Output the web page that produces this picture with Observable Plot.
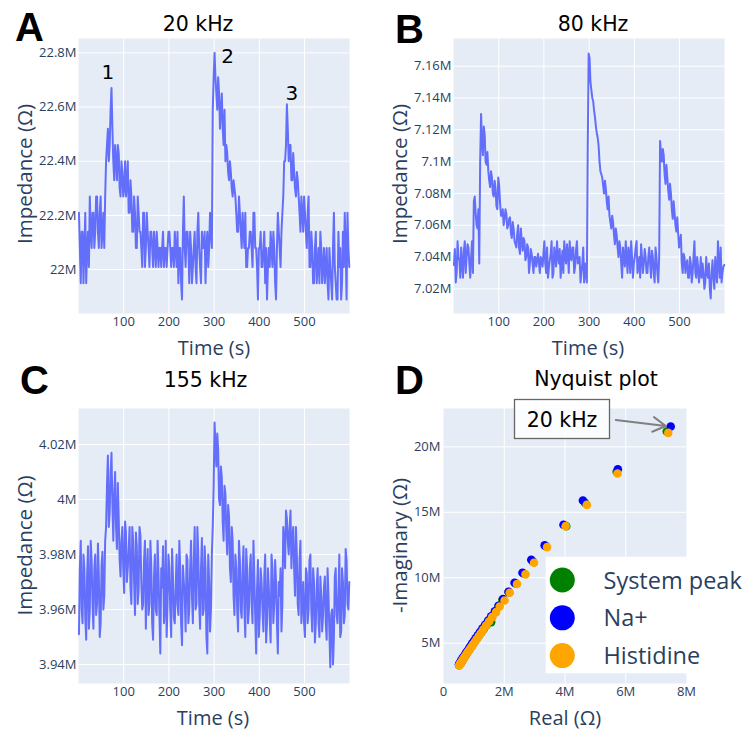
<!DOCTYPE html>
<html>
<head>
<meta charset="utf-8">
<script src="https://cdn.jsdelivr.net/npm/d3@7"></script>
<script src="https://cdn.jsdelivr.net/npm/@observablehq/plot@0.6"></script>
<style>
  html, body { margin: 0; padding: 0; background: #fff; }
  #wrap { position: relative; width: 750px; height: 735px; overflow: hidden; }
  #wrap > .panel { position: absolute; }
  #overlay { position: absolute; left: 0; top: 0; pointer-events: none; }
</style>
</head>
<body>
<div id="wrap"></div>
<script>
// ---------- DATA (impedance in MΩ) ----------
// readings at t = 1, 5, 9, ... s  ("even" set) and t = 3, 7, 11, ... s ("odd" set)
const evenStart = 1, oddStart = 3, sampleStep = 4;

const imp20kHzEven = [
22.21, 21.95, 22.14, 22.08, 21.95, 22.14, 22.27, 22.08, 22.21, 22.14, 22.27, 22.08, 22.27, 22.14, 22.08,
22.40, 22.52, 22.46, 22.67, 22.40, 22.46, 22.33, 22.43, 22.27, 22.36, 22.30, 22.27, 22.40, 22.21, 22.27,
22.14, 22.21, 22.08, 22.21, 22.14, 22.01, 22.21, 22.08, 22.14, 22.01, 22.14, 22.01, 22.08, 22.14, 22.01,
22.08, 22.08, 22.01, 22.08, 22.08, 22.14, 22.01, 22.08, 22.14, 22.01, 21.95, 22.08, 21.89, 22.27, 22.01,
22.14, 21.95, 22.08, 22.01, 22.14, 21.95, 22.21, 22.01, 22.14, 22.08, 21.95, 22.14, 22.08, 22.14, 22.59,
22.80, 22.65, 22.71, 22.52, 22.65, 22.46, 22.40, 22.43, 22.33, 22.36, 22.27, 22.30, 22.21, 22.14, 22.21,
22.08, 22.14, 22.21, 22.01, 22.08, 22.14, 22.01, 22.21, 22.08, 21.89, 22.08, 22.01, 22.08, 21.95, 21.89,
22.08, 22.14, 22.01, 22.08, 21.89, 22.21, 22.08, 22.14, 22.27, 22.40, 22.61, 22.40, 22.46, 22.33, 22.36,
22.27, 22.33, 22.21, 22.27, 22.14, 22.21, 22.08, 22.27, 22.01, 22.08, 21.95, 22.14, 22.01, 21.95, 22.08,
22.01, 21.95, 22.08, 21.89, 22.01, 21.89, 22.21, 21.95, 21.89, 22.01, 21.89, 22.14, 22.21, 21.89, 22.08
];
const imp20kHzOdd = [
22.08, 22.14, 21.95, 22.21, 22.08, 22.01, 22.14, 22.21, 22.08, 22.27, 22.14, 22.21, 22.08, 22.21, 22.27,
22.46, 22.40, 22.59, 22.52, 22.33, 22.40, 22.46, 22.30, 22.40, 22.27, 22.40, 22.33, 22.21, 22.33, 22.14,
22.27, 22.08, 22.27, 22.14, 22.08, 22.21, 22.01, 22.21, 22.08, 22.14, 22.08, 22.14, 22.01, 22.08, 22.08,
22.01, 22.14, 22.08, 22.01, 22.14, 22.08, 22.08, 22.01, 22.08, 22.14, 22.08, 21.95, 22.14, 22.08, 22.14,
22.08, 22.14, 21.95, 22.08, 22.01, 22.14, 22.08, 21.95, 22.08, 22.14, 22.08, 22.01, 22.21, 22.08, 22.71,
22.71, 22.59, 22.65, 22.59, 22.52, 22.59, 22.46, 22.36, 22.40, 22.30, 22.33, 22.27, 22.14, 22.27, 22.14,
22.21, 22.08, 22.01, 22.08, 22.14, 22.08, 22.21, 22.08, 22.01, 22.08, 22.14, 22.01, 22.14, 22.08, 22.01,
22.01, 22.08, 22.14, 21.95, 22.08, 22.14, 22.01, 22.21, 22.40, 22.46, 22.52, 22.46, 22.33, 22.43, 22.30,
22.36, 22.27, 22.14, 22.21, 22.27, 22.14, 22.21, 22.01, 22.14, 21.95, 22.08, 21.95, 22.08, 22.14, 21.95,
22.08, 22.01, 21.95, 22.08, 21.95, 22.08, 22.01, 21.89, 22.14, 22.08, 21.95, 22.01, 22.08, 22.21, 22.01
];

const imp80kHzEven = [
7.035, 7.024, 7.05, 7.038, 7.046, 7.027, 7.05, 7.04, 7.046, 7.027, 7.05, 7.075, 7.068, 7.058, 7.036,
7.13, 7.104, 7.117, 7.098, 7.094, 7.084, 7.09, 7.078, 7.083, 7.07, 7.085, 7.066, 7.07, 7.064, 7.067,
7.06, 7.065, 7.052, 7.058, 7.048, 7.055, 7.046, 7.058, 7.044, 7.05, 7.04, 7.046, 7.036, 7.042, 7.03,
7.04, 7.038, 7.036, 7.04, 7.034, 7.05, 7.03, 7.027, 7.038, 7.05, 7.03, 7.04, 7.05, 7.036, 7.027,
7.044, 7.05, 7.036, 7.042, 7.05, 7.038, 7.046, 7.034, 7.05, 7.038, 7.024, 7.036, 7.024, 7.03, 7.11,
7.165, 7.145, 7.138, 7.128, 7.118, 7.11, 7.094, 7.09, 7.08, 7.083, 7.07, 7.066, 7.058, 7.062, 7.048,
7.054, 7.04, 7.046, 7.027, 7.04, 7.05, 7.03, 7.042, 7.05, 7.027, 7.04, 7.05, 7.034, 7.027, 7.04,
7.036, 7.04, 7.03, 7.046, 7.027, 7.04, 7.024, 7.04, 7.024, 7.113, 7.1, 7.104, 7.086, 7.09, 7.076,
7.08, 7.064, 7.068, 7.056, 7.055, 7.05, 7.036, 7.042, 7.03, 7.038, 7.027, 7.036, 7.03, 7.05, 7.027,
7.034, 7.03, 7.027, 7.03, 7.024, 7.03, 7.036, 7.014, 7.038, 7.02, 7.03, 7.05, 7.027, 7.024, 7.034
];
const imp80kHzOdd = [
7.045, 7.03, 7.04, 7.027, 7.036, 7.044, 7.03, 7.048, 7.036, 7.04, 7.03, 7.078, 7.06, 7.07, 7.1,
7.112, 7.122, 7.1, 7.106, 7.088, 7.094, 7.08, 7.088, 7.072, 7.09, 7.074, 7.066, 7.06, 7.07, 7.058,
7.064, 7.055, 7.062, 7.05, 7.046, 7.06, 7.042, 7.05, 7.052, 7.038, 7.048, 7.03, 7.045, 7.036, 7.04,
7.034, 7.042, 7.03, 7.038, 7.042, 7.036, 7.046, 7.033, 7.042, 7.027, 7.046, 7.034, 7.04, 7.045, 7.036,
7.03, 7.04, 7.048, 7.03, 7.04, 7.046, 7.03, 7.044, 7.036, 7.04, 7.03, 7.046, 7.036, 7.024, 7.168,
7.15, 7.14, 7.132, 7.122, 7.115, 7.1, 7.092, 7.085, 7.088, 7.075, 7.078, 7.062, 7.066, 7.054, 7.058,
7.046, 7.05, 7.036, 7.046, 7.034, 7.04, 7.046, 7.03, 7.04, 7.036, 7.046, 7.03, 7.04, 7.048, 7.03,
7.045, 7.03, 7.04, 7.036, 7.044, 7.03, 7.046, 7.03, 7.04, 7.105, 7.108, 7.092, 7.098, 7.082, 7.086,
7.07, 7.075, 7.06, 7.065, 7.046, 7.054, 7.03, 7.04, 7.036, 7.027, 7.04, 7.024, 7.04, 7.03, 7.04,
7.024, 7.04, 7.036, 7.02, 7.04, 7.027, 7.02, 7.03, 7.027, 7.04, 7.024, 7.036, 7.046, 7.03, 7.035
];

const imp155kHzEven = [
3.951, 3.985, 3.955, 3.975, 3.949, 3.983, 3.96, 3.978, 3.953, 3.98, 3.962, 3.972, 3.955, 3.981, 3.965,
3.99, 4.016, 3.995, 4.017, 3.985, 4.01, 3.982, 3.993, 3.972, 3.99, 3.966, 3.988, 3.975, 3.99, 3.962,
3.985, 3.958, 3.983, 3.967, 3.987, 3.96, 3.978, 3.953, 3.982, 3.962, 3.976, 3.949, 3.98, 3.958, 3.973,
3.944, 3.968, 3.955, 3.985, 3.962, 3.975, 3.95, 3.972, 3.955, 3.98, 3.958, 3.975, 3.947, 3.97, 3.952,
3.978, 3.96, 3.985, 3.955, 3.99, 3.962, 3.98, 3.953, 3.986, 3.96, 3.975, 3.944, 3.97, 3.96, 3.99,
4.028, 4.012, 4.018, 3.998, 4.008, 3.985, 4.002, 3.98, 3.994, 3.97, 3.985, 3.958, 3.975, 3.952, 3.978,
3.957, 3.983, 3.95, 3.975, 3.96, 3.98, 3.955, 3.972, 3.944, 3.978, 3.958, 3.97, 3.952, 3.98, 3.955,
3.968, 3.948, 3.975, 3.962, 3.97, 3.944, 3.965, 3.952, 3.99, 3.975, 3.993, 3.98, 3.996, 3.985, 3.975,
3.99, 3.962, 3.978, 3.955, 3.97, 3.95, 3.973, 3.96, 3.98, 3.952, 3.97, 3.955, 3.975, 3.95, 3.965,
3.958, 3.972, 3.949, 3.965, 3.939, 3.96, 3.95, 3.975, 3.955, 3.98, 3.952, 3.97, 3.958, 3.978, 3.96
];
const imp155kHzOdd = [
3.975, 3.96, 3.98, 3.957, 3.972, 3.953, 3.985, 3.962, 3.975, 3.958, 3.984, 3.95, 3.976, 3.96, 3.985,
4.005, 3.99, 4.01, 3.998, 4.002, 3.99, 4.006, 3.978, 3.985, 3.975, 3.992, 3.97, 3.982, 3.968, 3.99,
3.97, 3.988, 3.962, 3.99, 3.97, 3.962, 3.985, 3.972, 3.958, 3.985, 3.955, 3.972, 3.96, 3.985, 3.958,
3.975, 3.983, 3.96, 3.95, 3.98, 3.96, 3.982, 3.957, 3.968, 3.962, 3.985, 3.955, 3.976, 3.965, 3.98,
3.955, 3.975, 3.965, 3.978, 3.96, 3.99, 3.962, 3.975, 3.958, 3.983, 3.95, 3.98, 3.952, 3.98, 4.005,
4.02, 4.024, 4.0, 4.012, 3.992, 4.005, 3.988, 3.998, 3.975, 3.99, 3.965, 3.98, 3.96, 3.985, 3.96,
3.975, 3.96, 3.982, 3.955, 3.975, 3.962, 3.985, 3.957, 3.968, 3.95, 3.975, 3.96, 3.972, 3.948, 3.975,
3.957, 3.98, 3.955, 3.978, 3.955, 3.97, 3.975, 3.962, 3.985, 3.996, 3.985, 3.99, 3.975, 3.99, 3.965,
3.98, 3.958, 3.985, 3.962, 3.955, 3.975, 3.955, 3.978, 3.96, 3.975, 3.948, 3.968, 3.955, 3.972, 3.952,
3.968, 3.955, 3.975, 3.952, 3.958, 3.94, 3.972, 3.958, 3.965, 3.95, 3.975, 3.955, 3.982, 3.962, 3.97
];

// peak annotations on panel A (time s, MΩ, label)
const peakLabelTime = [65, 330, 472];
const peakLabelValue = [22.726, 22.785, 22.65];
const peakLabelText = ["1", "2", "3"];

// Nyquist plot (MΩ)
const seriesNames = ["System peak", "Na+", "Histidine"];
const seriesColors = ["green", "blue", "orange"];
const systemReal = [7.35, 5.70, 4.66, 4.04, 3.37, 2.94, 2.65, 2.38, 2.15, 1.94, 1.82, 1.71, 1.60, 1.57, 1.41, 1.32, 1.24, 1.16, 1.09, 1.03, 0.97, 0.92, 0.87, 0.83, 0.79, 0.76, 0.73, 0.70, 0.67, 0.65, 0.63, 0.61, 0.59, 0.57, 0.56, 0.54, 0.53, 0.52];
const systemImag = [21.17, 18.10, 15.72, 13.94, 12.40, 11.24, 10.31, 9.56, 8.90, 8.32, 7.83, 7.40, 7.01, 6.61, 6.36, 6.07, 5.80, 5.55, 5.32, 5.11, 4.92, 4.74, 4.58, 4.44, 4.31, 4.19, 4.08, 3.98, 3.88, 3.79, 3.71, 3.64, 3.57, 3.51, 3.45, 3.40, 3.35, 3.31];
const naReal = [7.48, 5.74, 4.59, 3.95, 3.33, 2.89, 2.60, 2.34, 2.14, 1.96, 1.81, 1.69, 1.57, 1.47, 1.37, 1.28, 1.20, 1.13, 1.06, 1.00, 0.94, 0.89, 0.85, 0.81, 0.77, 0.74, 0.71, 0.68, 0.66, 0.63, 0.61, 0.59, 0.58, 0.56, 0.55, 0.54, 0.52, 0.51];
const naImag = [21.55, 18.29, 15.90, 14.05, 12.47, 11.37, 10.38, 9.62, 8.93, 8.38, 7.86, 7.43, 7.06, 6.73, 6.41, 6.12, 5.85, 5.60, 5.37, 5.16, 4.97, 4.79, 4.63, 4.48, 4.35, 4.23, 4.12, 4.02, 3.93, 3.84, 3.76, 3.69, 3.62, 3.56, 3.50, 3.45, 3.40, 3.36];
const hisReal = [7.40, 5.73, 4.72, 4.02, 3.41, 2.98, 2.70, 2.42, 2.18, 2.01, 1.85, 1.73, 1.60, 1.50, 1.40, 1.31, 1.23, 1.16, 1.09, 1.03, 0.97, 0.92, 0.87, 0.83, 0.79, 0.76, 0.73, 0.70, 0.67, 0.65, 0.63, 0.61, 0.59, 0.57, 0.56, 0.54, 0.53, 0.52];
const hisImag = [21.07, 17.96, 15.57, 13.94, 12.34, 11.14, 10.26, 9.52, 8.85, 8.26, 7.80, 7.37, 6.99, 6.66, 6.34, 6.05, 5.78, 5.53, 5.30, 5.09, 4.90, 4.72, 4.56, 4.42, 4.29, 4.17, 4.06, 3.96, 3.87, 3.78, 3.70, 3.63, 3.56, 3.50, 3.44, 3.39, 3.34, 3.30];
// annotation "20 kHz" arrow tail (data coords)
const labelTail = {real: 5.67, imag: 22.06};

// axis ticks
const timeTicks = [100, 200, 300, 400, 500];
const ticksA = [22, 22.2, 22.4, 22.6, 22.8];
const ticksB = [7.02, 7.04, 7.06, 7.08, 7.1, 7.12, 7.14, 7.16];
const ticksC = [3.94, 3.96, 3.98, 4, 4.02];
const ticksDx = [0, 2, 4, 6, 8];
const ticksDy = [5, 10, 15, 20];

// ---------- DRAWING ----------
const BG = "#E5ECF6", LINE = "#636efa", INK = "#2a3f5f";
const fmtM = d => (d === 0 ? "0" : `${+d.toFixed(2)}M`);
const baseStyle = {fontFamily: "'Open Sans', sans-serif", fontSize: "13px", color: INK, background: "transparent", overflow: "visible"};
const wrap = document.getElementById("wrap");

function place(node, left, top) {
  node.classList.add("panel");
  node.style.left = left + "px";
  node.style.top = top + "px";
  wrap.appendChild(node);
}

function series(even, odd) {
  const rows = [
    ...even.map((v, i) => ({t: evenStart + i * sampleStep, v})),
    ...odd.map((v, i) => ({t: oddStart + i * sampleStep, v}))
  ];
  return rows.sort((a, b) => a.t - b.t);
}

function timePanel(data, yDomain, yTicks, box, extra = []) {
  return Plot.plot({
    width: box.w, height: box.h,
    marginLeft: box.ml, marginRight: box.mr, marginTop: box.mt, marginBottom: box.mb,
    style: baseStyle,
    x: {domain: [0, 599.5]},
    y: {domain: yDomain},
    marks: [
      Plot.frame({fill: BG, stroke: null}),
      Plot.gridX(timeTicks, {stroke: "white", strokeOpacity: 1, strokeWidth: 1}),
      Plot.gridY(yTicks, {stroke: "white", strokeOpacity: 1, strokeWidth: 1}),
      Plot.line(data, {x: "t", y: "v", stroke: LINE, strokeWidth: 2, strokeLinejoin: "round"}),
      ...extra,
      Plot.axisX(timeTicks, {tickSize: 0, tickPadding: 3, label: null, tickFormat: d => String(d)}),
      Plot.axisY(yTicks, {tickSize: 0, tickPadding: 2, label: null, tickFormat: fmtM})
    ]
  });
}

const peakLabels = peakLabelText.map((s, i) => ({t: peakLabelTime[i], v: peakLabelValue[i], s}));

place(timePanel(series(imp20kHzEven, imp20kHzOdd), [21.838, 22.853], ticksA, {w: 375, h: 370, ml: 78, mr: 26, mt: 38, mb: 57},
  [Plot.text(peakLabels, {x: "t", y: "v", text: "s", fill: "black", fontSize: 20, fontFamily: "'DejaVu Sans', sans-serif"})]), 0, 0);
place(timePanel(series(imp80kHzEven, imp80kHzOdd), [7.0045, 7.1774], ticksB, {w: 375, h: 370, ml: 78, mr: 26, mt: 38, mb: 57}), 375, 0);
place(timePanel(series(imp155kHzEven, imp155kHzOdd), [3.9331, 4.0331], ticksC, {w: 375, h: 365, ml: 78, mr: 26, mt: 38, mb: 52}), 0, 370);

// Nyquist
const reals = [systemReal, naReal, hisReal];
const imags = [systemImag, naImag, hisImag];
const nyq = seriesNames.flatMap((name, k) => reals[k].map((re, i) => ({re, im: imags[k][i], k})));
const nyqPlot = Plot.plot({
  width: 375, height: 365,
  marginLeft: 68, marginRight: 64, marginTop: 38, marginBottom: 52,
  style: baseStyle,
  x: {domain: [0, 8]},
  y: {domain: [1.92, 22.93]},
  marks: [
    Plot.frame({fill: BG, stroke: null}),
    Plot.gridX(ticksDx.slice(1, -1), {stroke: "white", strokeOpacity: 1, strokeWidth: 1}),
    Plot.gridY(ticksDy, {stroke: "white", strokeOpacity: 1, strokeWidth: 1}),
    ...seriesNames.map((name, k) => Plot.dot(nyq.filter(d => d.k === k), {x: "re", y: "im", r: 4.3, fill: seriesColors[k], stroke: null})),
    Plot.arrow([{x1: labelTail.real, y1: labelTail.imag, x2: naReal[0], y2: naImag[0]}],
      {x1: "x1", y1: "y1", x2: "x2", y2: "y2", stroke: "#808080", strokeWidth: 2, headLength: 11, insetEnd: 5}),
    Plot.axisX(ticksDx, {tickSize: 0, tickPadding: 3, label: null, tickFormat: fmtM}),
    Plot.axisY(ticksDy, {tickSize: 0, tickPadding: 3, label: null, tickFormat: fmtM})
  ]
});
place(nyqPlot, 375, 370);

// ---------- overlay text: panel letters, titles, axis titles, annotation box, legend ----------
const ov = d3.select(wrap).append("svg").attr("id", "overlay").attr("width", 750).attr("height", 735);
const letters = [["A", 15, 41], ["B", 395, 43], ["C", 20, 394], ["D", 395, 394]];
letters.forEach(([s, x, y]) => ov.append("text").attr("x", x).attr("y", y).text(s)
  .attr("font-family", "'Liberation Sans', Arial, sans-serif").attr("font-weight", "bold").attr("font-size", 40).attr("fill", "black"));
const titles = [["20 kHz", 198, 31], ["80 kHz", 593, 31], ["155 kHz", 205.5, 386.5], ["Nyquist plot", 596, 386]];
titles.forEach(([s, x, y]) => ov.append("text").attr("x", x).attr("y", y).attr("text-anchor", "middle").text(s)
  .attr("font-family", "'DejaVu Sans', sans-serif").attr("font-size", 20.5).attr("fill", "black"));
const xTitles = [["Time (s)", 214, 355], ["Time (s)", 588, 355], ["Time (s)", 213, 725], ["Real (Ω)", 565, 725]];
xTitles.forEach(([s, x, y]) => ov.append("text").attr("x", x).attr("y", y).attr("text-anchor", "middle").text(s)
  .attr("font-family", "'Open Sans', sans-serif").attr("font-size", 20).attr("fill", INK));
const yTitles = [["Impedance (Ω)", 32, 174], ["Impedance (Ω)", 407, 174], ["Impedance (Ω)", 32, 545.5], ["-Imaginary (Ω)", 407, 545.5]];
yTitles.forEach(([s, x, y]) => ov.append("text").attr("transform", `translate(${x},${y}) rotate(-90)`).attr("text-anchor", "middle").text(s)
  .attr("font-family", "'Open Sans', sans-serif").attr("font-size", 20.5).attr("fill", INK));

// annotation box
ov.append("rect").attr("x", 514.5).attr("y", 399.5).attr("width", 95).attr("height", 39).attr("fill", "white").attr("fill-opacity", 0.85)
  .attr("stroke", "#666").attr("stroke-width", 1.3);
ov.append("text").attr("x", 562).attr("y", 426.5).attr("text-anchor", "middle").text("20 kHz")
  .attr("font-family", "'DejaVu Sans', sans-serif").attr("font-size", 20.5).attr("fill", "black");

// legend
ov.append("rect").attr("x", 545.7).attr("y", 556.7).attr("width", 210).attr("height", 116.6).attr("fill", "white");
seriesNames.forEach((name, k) => {
  const cy = 580 + k * 37.8;
  ov.append("circle").attr("cx", 562.3).attr("cy", cy).attr("r", 12.5).attr("fill", seriesColors[k]);
  ov.append("text").attr("x", 603.5).attr("y", cy + 8.5).text(name)
    .attr("font-family", "'Open Sans', sans-serif").attr("font-size", 23.5).attr("fill", INK);
});
</script>
</body>
</html>
